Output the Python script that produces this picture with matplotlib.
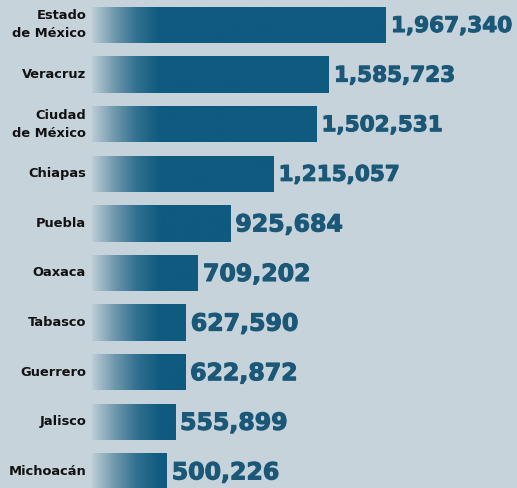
import matplotlib
matplotlib.use('Agg')
import matplotlib.pyplot as plt
import matplotlib.patheffects as pe
import numpy as np
from matplotlib.patches import Rectangle
from matplotlib.colors import LinearSegmentedColormap

# datos
estados = ['Estado\nde México', 'Veracruz', 'Ciudad\nde México', 'Chiapas', 'Puebla',
           'Oaxaca', 'Tabasco', 'Guerrero', 'Jalisco', 'Michoacán']
valores = [1967340, 1585723, 1502531, 1215057, 925684,
           709202, 627590, 622872, 555899, 500226]

BG = '#c6d3db'
DARK = '#0f5a7f'
TXT = '#1b5878'

W, H = 517, 488
px = 1967340 / 294.0      # unidades por pixel
x0 = 92                   # pixel donde empieza la barra
row = 49.6
top = 25

fig = plt.figure(figsize=(W / 100, H / 100), dpi=100)
fig.patch.set_facecolor(BG)
ax = fig.add_axes([0, 0, 1, 1])
ax.set_facecolor(BG)
ax.axis('off')

# degradado claro -> oscuro en los primeros ~68 px de cada barra
cmap = LinearSegmentedColormap.from_list('grad', ['#bccdd6', '#6f97ac', '#2f6f90', DARK])
ramp = 68 * px
xs = np.linspace(0, max(valores), 800)
grad = np.clip(xs / ramp, 0, 1)[np.newaxis, :]

bh = 0.73
for i, (nombre, v) in enumerate(zip(estados, valores)):
    rect = Rectangle((0, i - bh / 2), v, bh, facecolor='none', edgecolor='none')
    ax.add_patch(rect)
    im = ax.imshow(grad, cmap=cmap, vmin=0, vmax=1, aspect='auto',
                   extent=[0, max(valores), i + bh / 2, i - bh / 2],
                   interpolation='bilinear')
    im.set_clip_path(rect)

    ax.text(-6 * px, i, nombre, ha='right', va='center', fontsize=9.4,
            fontweight='bold', color='#111111', linespacing=1.5)

    etiqueta = f'{v:,}'
    fs = 15.5 if v >= 1000000 else 17
    ax.text(v + 5 * px, i + 0.02, etiqueta, ha='left', va='center', fontsize=fs,
            fontweight='bold', color=TXT,
            path_effects=[pe.withStroke(linewidth=0.8, foreground=TXT)])

ax.set_xlim(-x0 * px, (W - x0) * px)
ax.set_ylim((H - top) / row, -top / row)

fig.savefig('out.png', dpi=100, facecolor=BG)
plt.close(fig)
